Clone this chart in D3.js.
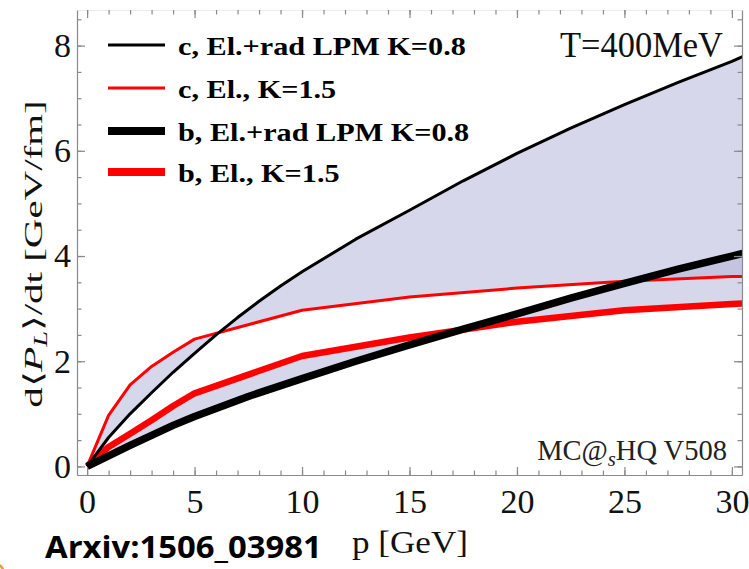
<!DOCTYPE html>
<html><head><meta charset="utf-8">
<script src="https://cdn.jsdelivr.net/npm/d3@7"></script>
<style>body{margin:0;background:#fff;} svg{display:block;}</style>
</head><body>
<svg id="chart" width="749" height="569"></svg>
<script>
// ---- data ----
const pCElRad = [0, 1, 2, 3, 4, 5, 6, 7, 8, 9, 10, 12.5, 15, 17.5, 20, 22.5, 25, 27.5, 30, 30.5];
const cElRad  = [0, 0.55, 1.0, 1.4, 1.79, 2.15, 2.5, 2.83, 3.14, 3.43, 3.7, 4.32, 4.87, 5.43, 5.95, 6.43, 6.88, 7.3, 7.7, 7.79];
const pCEl = [0, 1, 2, 3, 4, 5, 10, 15, 20, 25, 30, 30.5];
const cEl  = [0, 0.97, 1.55, 1.9, 2.17, 2.42, 2.97, 3.22, 3.39, 3.52, 3.61, 3.61];
const pBElRad = [0, 1, 2, 3, 4, 5, 7.5, 10, 12.5, 15, 17.5, 20, 22.5, 25, 27.5, 30, 30.5];
const bElRad  = [0, 0.2, 0.4, 0.59, 0.78, 0.95, 1.33, 1.67, 2.0, 2.31, 2.61, 2.9, 3.2, 3.48, 3.75, 4.0, 4.05];
const pBEl = [0, 1, 2, 3, 4, 5, 10, 15, 20, 25, 30, 30.5];
const bEl  = [0, 0.37, 0.62, 0.88, 1.15, 1.39, 2.1, 2.45, 2.75, 2.97, 3.09, 3.1];

const legendLabels = ["c, El.+rad LPM K=0.8", "c, El., K=1.5", "b, El.+rad LPM K=0.8", "b, El., K=1.5"];
const xTickValues = [0, 5, 10, 15, 20, 25, 30];
const yTickValues = [0, 2, 4, 6, 8];
const xMinorTicks = d3.range(0, 31, 1);
const yMinorTicks = d3.range(0, 8.51, 0.5);

// ---- layout ----
const svg = d3.select('#chart');
const L = 77, R = 742, T = 10, B = 475;
const x = d3.scaleLinear().domain([-0.47, 30.47]).range([L, R]);
const y = d3.scaleLinear().domain([-0.163, 8.677]).range([B, T]);
const serif = "Liberation Serif";
const axisColor = '#8a8a8a';

svg.append('defs').append('clipPath').attr('id', 'plotclip')
  .append('rect').attr('x', L).attr('y', T).attr('width', R - L).attr('height', B - T);

const plot = svg.append('g').attr('clip-path', 'url(#plotclip)');

function pts(ps, vs) { return ps.map((p, i) => [x(p), y(vs[i])]); }
function band(pa, va, pb, vb) {
  const a = pts(pa, va), b = pts(pb, vb).reverse();
  return d3.line()(a.concat(b)) + 'Z';
}
const bandFill = 'rgba(178,178,216,0.52)';
plot.append('path').attr('d', band(pCElRad, cElRad, pCEl, cEl)).attr('fill', bandFill);
plot.append('path').attr('d', band(pBElRad, bElRad, pBEl, bEl)).attr('fill', bandFill);

const line = d3.line().x(d => d[0]).y(d => d[1]);
function drawLine(ps, vs, color, w) {
  plot.append('path').attr('d', line(pts(ps, vs))).attr('fill', 'none')
    .attr('stroke', color).attr('stroke-width', w).attr('stroke-linejoin', 'round');
}
drawLine(pCEl, cEl, '#ff0000', 3);
drawLine(pBEl, bEl, '#ff0000', 6.5);
drawLine(pCElRad, cElRad, '#000', 3);
drawLine(pBElRad, bElRad, '#000', 7.5);

// ---- axes (frame) ----
function styleAxis(g) {
  g.attr('font-family', serif).attr('font-size', 34);
  g.selectAll('.domain').attr('stroke', axisColor).attr('stroke-width', 1.2);
  g.selectAll('.tick line').attr('stroke', axisColor).attr('stroke-width', 1.2);
  g.selectAll('.tick text').attr('fill', '#111').attr('font-family', serif)
    .style('font-family', serif).style('font-size', '34px');
}
// bottom
svg.append('g').attr('transform', `translate(0,${B})`)
  .call(d3.axisBottom(x).tickValues(xMinorTicks).tickSize(-4.5).tickSizeOuter(0).tickFormat(''))
  .call(styleAxis);
svg.append('g').attr('transform', `translate(0,${B})`)
  .call(d3.axisBottom(x).tickValues(xTickValues).tickSize(-8).tickSizeOuter(0).tickPadding(14).tickFormat(d3.format('d')))
  .call(styleAxis).call(g => g.select('.domain').remove());
// top
svg.append('g').attr('transform', `translate(0,${T})`)
  .call(d3.axisTop(x).tickValues(xMinorTicks).tickSize(-4.5).tickSizeOuter(0).tickFormat(''))
  .call(styleAxis).call(g => g.select('.domain').attr('stroke', '#ececec'));
svg.append('g').attr('transform', `translate(0,${T})`)
  .call(d3.axisTop(x).tickValues(xTickValues).tickSize(-8).tickSizeOuter(0).tickFormat(''))
  .call(styleAxis).call(g => g.select('.domain').remove());
// left
svg.append('g').attr('transform', `translate(${L},0)`)
  .call(d3.axisLeft(y).tickValues(yMinorTicks).tickSize(-4.5).tickSizeOuter(0).tickFormat(''))
  .call(styleAxis);
svg.append('g').attr('transform', `translate(${L},0)`)
  .call(d3.axisLeft(y).tickValues(yTickValues).tickSize(-8).tickSizeOuter(0).tickPadding(6).tickFormat(d3.format('d')))
  .call(styleAxis).call(g => g.select('.domain').remove());
// right
svg.append('g').attr('transform', `translate(${R},0)`)
  .call(d3.axisRight(y).tickValues(yMinorTicks).tickSize(-4.5).tickSizeOuter(0).tickFormat(''))
  .call(styleAxis);
svg.append('g').attr('transform', `translate(${R},0)`)
  .call(d3.axisRight(y).tickValues(yTickValues).tickSize(-8).tickSizeOuter(0).tickFormat(''))
  .call(styleAxis).call(g => g.select('.domain').remove());

// ---- text helper: fit horizontal length ----
function fit(sel, tx, ty, target, rot) {
  const w = sel.node().getBBox().width;
  const sx = target / w;
  sel.attr('transform', `translate(${tx},${ty}) rotate(${rot || 0}) scale(${sx},1)`);
  return sx;
}

// ---- legend ----
const legRows = [45, 88, 131, 172];
const legStyles = [['#000', 3], ['#ff0000', 3], ['#000', 8], ['#ff0000', 8]];
let legScale = null;
legendLabels.forEach((lab, i) => {
  svg.append('line').attr('x1', 108).attr('x2', 165).attr('y1', legRows[i]).attr('y2', legRows[i])
    .attr('stroke', legStyles[i][0]).attr('stroke-width', legStyles[i][1]);
  const t = svg.append('text').attr('x', 0).attr('y', 0).style('font-family', serif)
    .attr('font-weight', 'bold').style('font-size', '25px').attr('fill', '#000').text(lab);
  const w = t.node().getBBox().width;
  if (legScale === null) legScale = 288 / w;
  t.attr('transform', `translate(178,${legRows[i] + 9.5}) scale(${legScale},1)`);
});

// ---- annotations ----
const tT = svg.append('text').style('font-family', serif).style('font-size', '35px').attr('fill', '#111')
  .attr('text-anchor', 'end').text('T=400MeV');
fit(tT, 723, 57, 163);

const mc = svg.append('text').style('font-family', serif).style('font-size', '29px').attr('fill', '#222')
  .attr('text-anchor', 'end');
mc.append('tspan').text('MC@');
mc.append('tspan').attr('font-style', 'italic').style('font-size', '21px').attr('dy', 6).text('s');
mc.append('tspan').attr('dy', -6).text('HQ V508');
fit(mc, 727, 460, 190);

// y label
const yl = svg.append('text').style('font-family', serif).style('font-size', '26px').attr('fill', '#111')
  .attr('text-anchor', 'middle');
yl.append('tspan').text('d\u27E8');
yl.append('tspan').attr('font-style', 'italic').text('P');
yl.append('tspan').attr('font-style', 'italic').style('font-size', '18px').attr('dy', 5).text('L');
yl.append('tspan').attr('dy', -5).text('\u27E9/dt [GeV/fm]');
fit(yl, 42, 254, 308, -90);

// x label
const xl = svg.append('text').style('font-family', serif).style('font-size', '31px').attr('fill', '#111')
  .attr('text-anchor', 'start').text('p [GeV]');
fit(xl, 352, 553, 116);

// source
const src = svg.append('text').style('font-family', "Open Sans, Liberation Sans, sans-serif")
  .attr('font-weight', 'bold').style('font-size', '31px').attr('fill', '#000').text('Arxiv:1506_03981');
fit(src, 45, 558, 277);

// little orange mark at the corner
svg.append('circle').attr('cx', -7).attr('cy', 574).attr('r', 11)
  .attr('fill', 'none').attr('stroke', '#f39c2a').attr('stroke-width', 2.5);
</script>
</body></html>
